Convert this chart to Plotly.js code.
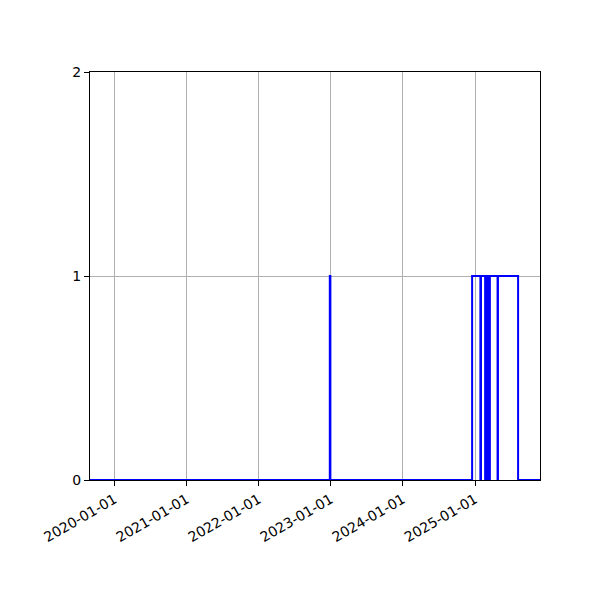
<!DOCTYPE html>
<html>
<head>
<meta charset="utf-8">
<script src="https://cdn.plot.ly/plotly-3.0.1.min.js"></script>
<style>
  html, body { margin: 0; padding: 0; background: #fff; }
  #plot { width: 600px; height: 600px; }
</style>
</head>
<body>
<div id="plot"></div>
<script>
// step series: value holds until the next date
const dates = [
    "2019-08-30", "2022-12-27", "2022-12-30", "2024-12-17",
    "2025-01-28", "2025-01-31", "2025-02-21", "2025-02-23",
    "2025-02-28", "2025-03-02", "2025-03-08", "2025-03-10",
    "2025-03-15", "2025-03-17", "2025-04-25", "2025-04-27",
    "2025-08-07", "2025-11-26"
];
const values = [0, 1, 0, 1, 0, 1, 0, 1, 0, 1, 0, 1, 0, 1, 0, 1, 0, 0];

const xTicks = ["2020-01-01", "2021-01-01", "2022-01-01", "2023-01-01", "2024-01-01", "2025-01-01"];
const yTicks = [0, 1, 2];

const series = {
    type: "scatter",
    mode: "lines",
    x: dates,
    y: values,
    line: {color: "#0000ff", width: 2, shape: "hv"},
    hoverinfo: "skip"
};

const axisStyle = {
    showline: true,
    mirror: true,
    linecolor: "#000",
    linewidth: 1,
    ticks: "outside",
    ticklen: 5,
    tickcolor: "#000",
    showgrid: true,
    gridcolor: "#b0b0b0",
    gridwidth: 1,
    zeroline: false,
    tickfont: {family: "DejaVu Sans", size: 14, color: "#000"}
};

Plotly.newPlot("plot", [series], {
    width: 600,
    height: 600,
    margin: {l: 90, r: 60, t: 72, b: 120},
    paper_bgcolor: "#fff",
    plot_bgcolor: "#fff",
    showlegend: false,
    xaxis: Object.assign({}, axisStyle, {
        type: "date",
        range: [dates[0], dates[dates.length - 1]],
        tickmode: "array",
        tickvals: xTicks,
        ticktext: xTicks,
        tickangle: -30
    }),
    yaxis: Object.assign({}, axisStyle, {
        range: [0, 2],
        tickmode: "array",
        tickvals: yTicks,
        ticktext: yTicks.map(String)
    })
}, {staticPlot: true});
</script>
</body>
</html>
